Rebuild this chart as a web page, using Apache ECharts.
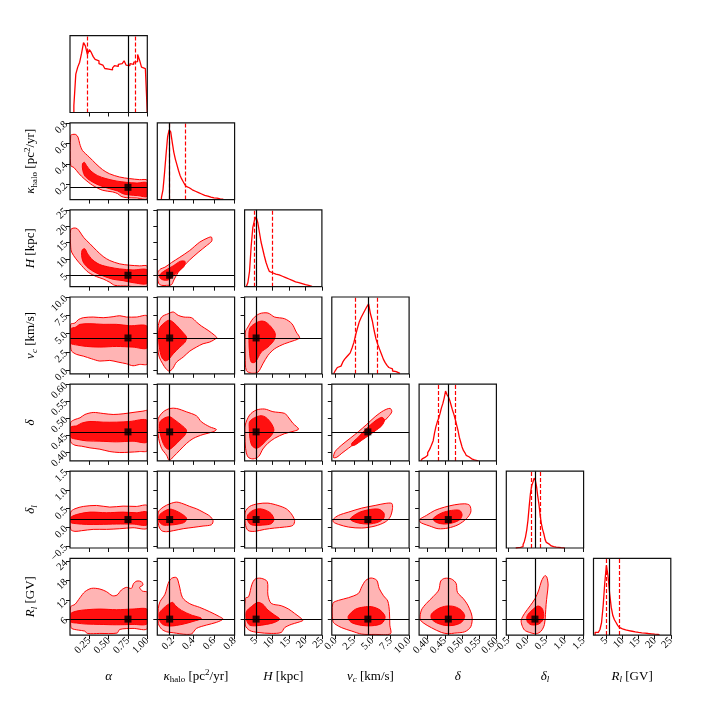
<!DOCTYPE html>
<html lang="en">
<head>
<meta charset="UTF-8">
<title>corner</title>
<script src="https://cdn.jsdelivr.net/npm/echarts@6/dist/echarts.min.js"></script>
<style>
    html, body { margin: 0; padding: 0; background: #fff; }
    #main { width: 706px; height: 706px; }
</style>
</head>
<body>
<div id="main"></div>
<script>
// parameter ranges, truths, quantiles
const axisMin = [0, 0.05, 1.5, -0.5, 0.375, -0.55, 1]
const axisMax = [1, 0.8, 25, 10, 0.6, 1.5, 25]
const truth = [0.75, 0.17, 5, 4.4, 0.46, 0.21, 6]
const qLo = [0.223, 0.165, 4.5, 2.73, 0.43, 0.118, 5.1]
const qHi = [0.85, 0.324, 9.9, 5.64, 0.484, 0.356, 9.0]
const xTicks = [[0.25, 0.5, 0.75, 1], [0.2, 0.4, 0.6, 0.8], [5, 10, 15, 20, 25], [0, 2.5, 5, 7.5, 10],
    [0.4, 0.45, 0.5, 0.55, 0.6], [-0.5, 0, 0.5, 1, 1.5], [5, 10, 15, 20, 25]]
const yTicks = [[], [0.2, 0.4, 0.6, 0.8], [5, 10, 15, 20, 25], [0, 2.5, 5, 7.5, 10],
    [0.4, 0.45, 0.5, 0.55, 0.6], [-0.5, 0, 0.5, 1, 1.5], [6, 12, 18, 24]]
const decimals = [2, 1, 0, 1, 2, 1, 0]
const axisTitles = ['{i|α}', '{i|κ}{sub|halo} [pc{sup|2}/yr]', '{i|H} [kpc]', '{i|v}{subi|c} [km/s]',
    '{i|δ}', '{i|δ}{subi|l}', '{i|R}{subi|l} [GV]']

// histograms (bin start, bin width, counts)
const histStart = [0.05, 0.09, 2.0, -0.25, 0.38, -0.3, 1.5]
const histWidth = [0.025, 0.015, 0.5, 0.25, 0.004, 0.0325, 0.5]
const histAlpha = [10, 55, 65, 72, 85, 100, 95, 83, 90, 86, 80, 76, 74, 70, 68, 66, 63, 62, 61, 61, 64, 67, 66, 69, 70, 72, 74, 68, 67, 70, 69, 72, 73, 83, 75, 65, 63, 63]
const histKappa = [3, 14, 38, 65, 90, 100, 97, 82, 68, 58, 50, 42, 35, 30, 26, 22, 19, 17, 15, 14, 13, 12, 11, 10, 9, 8, 7, 6, 5.5, 5, 4, 3.5, 3, 2.5, 2, 2, 1.5, 1, 1, 0.5]
const histH = [1, 6, 22, 58, 85, 95, 100, 92, 78, 64, 54, 44, 35, 28, 22, 20, 19, 18, 18, 17, 16, 15, 14, 13, 12, 11, 10, 9, 8, 7, 6.5, 6, 5, 4.5, 4, 3, 2.5, 2, 1, 0.5]
const histVc = [2, 5, 9, 11, 13, 17, 21, 24, 27, 30, 37, 45, 56, 66, 75, 81, 86, 91, 96, 100, 86, 76, 62, 50, 42, 35, 28, 21, 16, 12, 9, 7, 4, 3, 1.5, 0.5]
const histDelta = [1, 3, 5, 7, 8, 12, 15, 19, 24, 29, 40, 49, 56, 61, 68, 76, 82, 90, 100, 95, 92, 87, 80, 73, 67, 60, 52, 44, 34, 27, 20, 15, 12, 8, 6, 4, 3, 2, 1.5, 1, 0.5, 0.3]
const histDl = [0.5, 0.5, 1, 1, 1.5, 2, 5, 9, 16, 26, 40, 60, 78, 89, 94, 100, 97, 88, 74, 62, 46, 34, 26, 20, 12, 8, 6, 4, 3, 2.5, 2, 1.5, 1.2, 1, 1, 0.7, 0.5, 0.5, 0.3, 0.2]
const histRl = [4, 4, 5, 8, 18, 42, 75, 100, 85, 60, 40, 28, 22, 18, 14, 11, 9, 8, 7.5, 7, 6.5, 6, 5.5, 5, 4.5, 4, 3.8, 3.5, 3.2, 3, 2.8, 2.5, 2.3, 2, 1.8, 1.5, 1.3, 1.1, 1, 0.8]
const hists = [histAlpha, histKappa, histH, histVc, histDelta, histDl, histRl]

// contour outlines (x param, y param)
const kappaAlphaOut = [[0.009,0.677],[0.03,0.686],[0.074,0.686],[0.104,0.66],[0.126,0.595],[0.161,0.53],[0.248,0.466],[0.335,0.40],[0.422,0.342],[0.509,0.303],[0.639,0.271],[0.77,0.255],[0.9,0.245],[1.0,0.238],[1.0,0.06],[0.857,0.066],[0.726,0.069],[0.661,0.082],[0.617,0.108],[0.552,0.125],[0.422,0.141],[0.291,0.19],[0.183,0.254],[0.117,0.303],[0.052,0.362],[0.009,0.384]]
const kappaAlphaIn = [[0.161,0.40],[0.187,0.414],[0.213,0.384],[0.27,0.329],[0.357,0.284],[0.465,0.255],[0.596,0.232],[0.726,0.219],[0.857,0.212],[1.0,0.212],[1.0,0.082],[0.878,0.089],[0.77,0.095],[0.683,0.108],[0.617,0.134],[0.509,0.157],[0.378,0.19],[0.27,0.232],[0.196,0.277],[0.165,0.336]]
const hAlphaOut = [[0.009,18.95],[0.052,19.46],[0.094,19.25],[0.129,18.23],[0.18,16.48],[0.258,14.64],[0.343,12.59],[0.429,10.74],[0.515,9.51],[0.644,8.48],[0.773,8.07],[0.901,7.87],[1.0,7.76],[1.0,1.71],[0.73,1.71],[0.579,1.92],[0.515,2.84],[0.429,3.87],[0.343,4.58],[0.236,5.92],[0.15,7.97],[0.077,10.02],[0.021,12.07],[0.009,13.61]]
const hAlphaIn = [[0.159,12.79],[0.193,13.1],[0.223,11.76],[0.292,9.71],[0.386,8.28],[0.515,7.46],[0.644,6.94],[0.815,6.63],[1.0,6.63],[1.0,2.53],[0.815,2.74],[0.687,3.35],[0.558,3.76],[0.429,4.79],[0.322,5.92],[0.236,7.25],[0.172,8.99],[0.15,11.05]]
const vcAlphaOut = [[0.009,6.26],[0.064,6.44],[0.107,6.9],[0.172,7.17],[0.3,7.26],[0.429,7.17],[0.558,7.31],[0.644,7.44],[0.73,7.26],[0.858,7.26],[1.0,7.35],[1.0,0.87],[0.901,0.78],[0.815,0.6],[0.73,0.87],[0.622,1.1],[0.515,1.33],[0.386,1.24],[0.279,1.55],[0.172,1.92],[0.086,2.15],[0.021,2.6],[0.009,3.15]]
const vcAlphaIn = [[0.009,5.62],[0.077,5.89],[0.129,6.26],[0.258,6.35],[0.429,6.26],[0.601,6.26],[0.773,6.07],[1.0,5.98],[1.0,3.06],[0.815,3.15],[0.601,3.24],[0.386,3.15],[0.215,3.24],[0.094,3.43],[0.009,3.7]]
const deltaAlphaOut = [[0.009,0.4875],[0.064,0.4963],[0.129,0.5012],[0.193,0.511],[0.3,0.5169],[0.429,0.5139],[0.558,0.511],[0.687,0.513],[0.815,0.5169],[0.944,0.5208],[1.0,0.5218],[1.0,0.4054],[0.901,0.4024],[0.773,0.4005],[0.644,0.3995],[0.515,0.4024],[0.386,0.4093],[0.258,0.4132],[0.15,0.4181],[0.064,0.421],[0.009,0.4308]]
const deltaAlphaIn = [[0.009,0.4738],[0.086,0.4777],[0.15,0.4856],[0.258,0.4905],[0.429,0.4885],[0.601,0.4885],[0.773,0.4905],[1.0,0.4934],[1.0,0.4308],[0.815,0.4328],[0.601,0.4308],[0.386,0.4328],[0.215,0.4337],[0.086,0.4386],[0.009,0.4445]]
const dlAlphaOut = [[0.009,0.408],[0.064,0.497],[0.172,0.559],[0.343,0.586],[0.515,0.542],[0.687,0.568],[0.858,0.559],[1.0,0.577],[1.0,-0.017],[0.815,-0.009],[0.644,-0.035],[0.472,-0.053],[0.3,-0.053],[0.15,-0.088],[0.064,-0.106],[0.009,-0.053]]
const dlAlphaIn = [[0.009,0.267],[0.107,0.355],[0.258,0.408],[0.472,0.391],[0.687,0.408],[0.858,0.391],[1.0,0.408],[1.0,0.071],[0.815,0.089],[0.601,0.089],[0.386,0.08],[0.215,0.08],[0.086,0.098],[0.009,0.133]]
const rlAlphaOut = [[0.009,9.87],[0.064,10.6],[0.129,12.69],[0.193,14.57],[0.279,15.61],[0.386,15.4],[0.472,14.57],[0.549,13.31],[0.609,13.52],[0.665,15.09],[0.73,15.92],[0.794,15.61],[0.824,17.17],[0.867,17.9],[0.923,17.7],[0.944,16.65],[0.901,15.92],[0.936,14.77],[1.0,14.36],[1.0,3.09],[0.815,3.09],[0.644,2.77],[0.609,1.63],[0.386,1.52],[0.223,1.52],[0.193,2.25],[0.107,2.56],[0.021,3.09],[0.009,4.13]]
const rlAlphaIn = [[0.009,7.68],[0.086,8.51],[0.215,8.93],[0.386,9.14],[0.601,8.93],[0.815,9.14],[1.0,9.03],[1.0,4.55],[0.815,4.34],[0.601,4.23],[0.386,4.34],[0.215,4.44],[0.086,4.76],[0.009,5.17]]
const hKappaOut = [[0.056,5.92],[0.082,6.94],[0.124,7.46],[0.188,8.89],[0.269,10.53],[0.365,12.59],[0.462,15.15],[0.543,16.48],[0.575,16.69],[0.578,15.46],[0.526,14.02],[0.446,11.97],[0.365,9.71],[0.301,7.66],[0.253,5.92],[0.211,3.56],[0.188,2.12],[0.14,1.91],[0.092,1.91],[0.063,2.53],[0.053,4.17]]
const hKappaIn = [[0.076,5.2],[0.124,6.43],[0.204,7.87],[0.275,9.3],[0.32,9.2],[0.308,7.66],[0.253,6.12],[0.198,4.58],[0.156,3.56],[0.108,3.56],[0.076,4.17]]
const vcKappaOut = [[0.06,6.12],[0.092,7.26],[0.156,7.72],[0.205,7.95],[0.253,7.49],[0.308,7.26],[0.382,7.17],[0.43,6.58],[0.478,6.03],[0.543,5.44],[0.607,4.75],[0.626,4.43],[0.559,3.84],[0.494,3.61],[0.43,3.15],[0.365,2.6],[0.301,1.78],[0.237,1.1],[0.198,0.19],[0.166,-0.13],[0.134,0.19],[0.102,0.87],[0.069,1.78],[0.053,3.15]]
const vcKappaIn = [[0.069,5.66],[0.108,6.35],[0.156,6.8],[0.188,6.71],[0.237,6.12],[0.295,5.21],[0.333,4.52],[0.32,3.84],[0.269,3.15],[0.205,2.24],[0.156,1.42],[0.124,1.28],[0.092,1.78],[0.069,3.15],[0.063,4.52]]
const deltaKappaOut = [[0.06,0.4993],[0.108,0.5188],[0.172,0.5286],[0.237,0.5286],[0.333,0.5188],[0.43,0.5071],[0.478,0.4895],[0.559,0.4748],[0.623,0.467],[0.591,0.4601],[0.494,0.4523],[0.398,0.4406],[0.333,0.4259],[0.269,0.4064],[0.205,0.3868],[0.166,0.376],[0.14,0.3917],[0.092,0.4112],[0.063,0.4406],[0.056,0.4699]]
const deltaKappaIn = [[0.076,0.4895],[0.124,0.5012],[0.172,0.5042],[0.221,0.4944],[0.285,0.4797],[0.333,0.465],[0.317,0.4503],[0.269,0.4357],[0.221,0.421],[0.172,0.4093],[0.14,0.4112],[0.108,0.4259],[0.082,0.4504],[0.072,0.4699]]
const dlKappaOut = [[0.06,0.408],[0.108,0.542],[0.172,0.63],[0.237,0.675],[0.301,0.63],[0.365,0.559],[0.43,0.497],[0.494,0.408],[0.559,0.302],[0.591,0.178],[0.575,0.071],[0.494,0.036],[0.398,0.0],[0.301,-0.035],[0.205,-0.088],[0.14,-0.115],[0.092,-0.088],[0.063,0.053]]
const dlKappaIn = [[0.069,0.32],[0.114,0.426],[0.172,0.488],[0.221,0.453],[0.285,0.364],[0.333,0.249],[0.317,0.142],[0.253,0.089],[0.172,0.062],[0.108,0.062],[0.072,0.142]]
const rlKappaOut = [[0.06,9.35],[0.076,11.43],[0.124,13.73],[0.156,17.17],[0.188,18.74],[0.237,18.95],[0.262,16.65],[0.295,12.69],[0.365,10.81],[0.462,9.66],[0.559,8.3],[0.655,6.74],[0.687,6.01],[0.623,4.97],[0.526,4.13],[0.43,3.09],[0.385,1.42],[0.333,1.21],[0.269,1.42],[0.205,1.73],[0.14,2.04],[0.092,2.88],[0.06,4.65]]
const rlKappaIn = [[0.069,7.78],[0.108,9.35],[0.156,10.6],[0.198,11.23],[0.227,10.18],[0.285,8.72],[0.382,7.26],[0.478,6.22],[0.398,5.28],[0.317,4.55],[0.237,4.03],[0.172,3.82],[0.108,4.23],[0.076,5.38]]
const vcHOut = [[1.7,5.21],[2.51,5.89],[4.03,7.03],[6.06,7.72],[8.59,7.81],[10.62,7.26],[13.66,7.03],[15.88,6.35],[17.2,5.21],[18.21,4.43],[16.7,4.07],[13.66,3.61],[10.62,2.92],[8.59,2.01],[7.07,0.87],[5.55,-0.27],[3.53,-0.41],[2.01,-0.04],[1.7,1.78]]
const vcHIn = [[3.02,5.66],[4.54,6.35],[6.57,6.71],[8.08,6.53],[9.6,5.89],[10.82,4.98],[10.41,4.07],[8.59,3.15],[6.57,2.47],[4.74,1.1],[3.53,1.1],[3.02,2.24],[2.82,4.07]]
const deltaHOut = [[1.7,0.4802],[3.02,0.5094],[5.05,0.524],[7.58,0.527],[10.11,0.5192],[13.66,0.5143],[14.67,0.5045],[16.19,0.4851],[17.91,0.4685],[16.7,0.4627],[13.66,0.4549],[10.62,0.4412],[8.59,0.4266],[7.07,0.41],[5.75,0.3877],[4.03,0.3809],[2.51,0.3867],[1.8,0.412],[1.6,0.451]]
const deltaHIn = [[3.02,0.49],[4.54,0.5016],[6.57,0.5075],[8.08,0.5016],[9.6,0.4851],[10.41,0.4656],[9.6,0.449],[8.08,0.4354],[6.57,0.4198],[5.05,0.412],[3.73,0.4198],[3.12,0.4412],[2.92,0.4705]]
const dlHOut = [[1.7,0.408],[3.02,0.559],[5.55,0.63],[8.59,0.648],[11.63,0.586],[14.16,0.497],[15.68,0.364],[16.7,0.187],[16.19,0.054],[13.66,0.009],[10.62,-0.017],[7.58,-0.053],[4.54,-0.106],[2.51,-0.08],[1.7,0.098]]
const dlHIn = [[2.51,0.338],[4.03,0.453],[6.06,0.497],[8.08,0.453],[9.6,0.364],[10.41,0.213],[9.6,0.098],[7.07,0.062],[4.54,0.053],[3.02,0.098],[2.31,0.231]]
const rlHOut = [[1.7,12.48],[2.72,13.0],[3.73,16.86],[4.74,18.53],[6.57,18.74],[8.39,17.7],[8.59,13.52],[9.6,10.91],[12.64,10.18],[14.87,9.14],[16.7,7.78],[18.72,6.22],[19.23,5.59],[17.71,4.97],[15.68,4.34],[13.66,3.3],[12.64,1.83],[9.6,1.52],[5.55,1.83],[3.02,2.46],[1.7,4.13]]
const rlHIn = [[2.01,8.3],[3.53,9.87],[5.55,11.23],[7.07,10.6],[8.59,8.83],[10.62,7.26],[12.14,6.01],[10.62,4.97],[8.08,4.34],[5.05,3.92],[3.02,4.13],[2.11,5.7]]
const deltaVcOut = [[-0.27,0.3847],[-0.05,0.4023],[0.86,0.4218],[1.99,0.4412],[3.12,0.4607],[4.25,0.4821],[5.38,0.5045],[6.52,0.5221],[7.42,0.5289],[7.65,0.5192],[7.19,0.5045],[6.29,0.4851],[5.38,0.4705],[4.48,0.4558],[3.57,0.4412],[2.67,0.4266],[1.76,0.412],[0.86,0.3974],[0.18,0.3857]]
const deltaVcIn = [[2.22,0.4266],[3.12,0.4451],[4.25,0.4705],[5.38,0.4919],[6.29,0.5026],[6.65,0.4948],[6.29,0.4782],[5.38,0.4627],[4.48,0.449],[3.57,0.4354],[2.67,0.4218],[2.22,0.4198]]
const dlVcOut = [[-0.32,0.213],[0.41,0.32],[1.76,0.408],[3.57,0.515],[5.38,0.586],[6.74,0.639],[7.65,0.639],[7.74,0.497],[7.42,0.275],[6.74,0.142],[5.38,0.036],[3.57,-0.017],[1.76,0.009],[0.41,0.08],[-0.27,0.142]]
const dlVcIn = [[1.99,0.231],[3.12,0.391],[4.48,0.47],[5.84,0.488],[6.56,0.391],[6.56,0.249],[5.84,0.142],[4.48,0.089],[3.12,0.116],[2.22,0.178]]
const rlVcOut = [[-0.36,10.91],[0.41,11.85],[1.76,12.69],[3.12,14.04],[3.57,16.13],[4.12,18.11],[4.84,18.84],[5.61,18.11],[5.93,15.61],[6.52,13.31],[7.1,11.64],[7.33,8.3],[7.38,4.13],[7.47,1.42],[5.38,1.21],[3.57,1.31],[2.22,2.25],[0.86,3.3],[-0.05,4.44],[-0.36,5.38]]
const rlVcIn = [[1.76,7.05],[2.67,9.03],[3.8,9.76],[4.93,9.87],[6.06,8.83],[6.74,6.74],[6.29,4.65],[4.93,3.92],[3.57,4.03],[2.22,4.86],[1.76,6.01]]
const dlDeltaOut = [[0.3769,0.213],[0.3963,0.32],[0.4206,0.453],[0.4497,0.542],[0.4788,0.604],[0.5079,0.63],[0.5224,0.586],[0.5254,0.408],[0.5127,0.231],[0.4885,0.071],[0.4594,-0.017],[0.4303,-0.035],[0.406,0.036],[0.3866,0.098],[0.3779,0.142]]
const dlDeltaIn = [[0.4157,0.231],[0.44,0.382],[0.4691,0.453],[0.4933,0.453],[0.5001,0.337],[0.4943,0.213],[0.4739,0.124],[0.4497,0.089],[0.4254,0.133]]
const rlDeltaOut = [[0.3779,6.01],[0.3818,8.83],[0.3963,10.91],[0.4157,13.0],[0.4322,15.09],[0.438,17.9],[0.4497,18.74],[0.4691,18.53],[0.4827,17.17],[0.4866,14.36],[0.503,12.48],[0.5176,10.18],[0.5292,6.74],[0.5254,3.61],[0.5079,2.04],[0.4788,1.63],[0.4594,1.42],[0.44,1.83],[0.4109,3.3],[0.3866,4.86]]
const rlDeltaIn = [[0.4109,7.57],[0.4303,9.24],[0.4545,10.08],[0.4788,9.87],[0.4982,8.72],[0.5079,6.95],[0.4982,4.97],[0.4739,4.03],[0.4497,4.03],[0.4254,4.86],[0.4109,6.11]]
const rlDlOut = [[-0.154,5.7],[-0.066,7.78],[0.084,10.18],[0.216,12.48],[0.312,15.09],[0.383,17.9],[0.471,19.57],[0.524,19.16],[0.559,16.65],[0.532,13.52],[0.506,10.6],[0.488,7.47],[0.462,4.34],[0.374,2.25],[0.242,1.42],[0.066,1.83],[-0.066,2.56],[-0.136,4.13]]
const rlDlIn = [[0.004,7.05],[0.136,8.83],[0.286,10.08],[0.4,9.35],[0.444,7.26],[0.4,5.38],[0.286,4.34],[0.11,4.23],[0.004,5.28]]

// row, col, outer, inner
const panels = [
    [1, 0, kappaAlphaOut, kappaAlphaIn],
    [2, 0, hAlphaOut, hAlphaIn], [2, 1, hKappaOut, hKappaIn],
    [3, 0, vcAlphaOut, vcAlphaIn], [3, 1, vcKappaOut, vcKappaIn], [3, 2, vcHOut, vcHIn],
    [4, 0, deltaAlphaOut, deltaAlphaIn], [4, 1, deltaKappaOut, deltaKappaIn], [4, 2, deltaHOut, deltaHIn], [4, 3, deltaVcOut, deltaVcIn],
    [5, 0, dlAlphaOut, dlAlphaIn], [5, 1, dlKappaOut, dlKappaIn], [5, 2, dlHOut, dlHIn], [5, 3, dlVcOut, dlVcIn], [5, 4, dlDeltaOut, dlDeltaIn],
    [6, 0, rlAlphaOut, rlAlphaIn], [6, 1, rlKappaOut, rlKappaIn], [6, 2, rlHOut, rlHIn], [6, 3, rlVcOut, rlVcIn], [6, 4, rlDeltaOut, rlDeltaIn], [6, 5, rlDlOut, rlDlIn]
]

// layout
const colLeft = [70, 157.3, 244.6, 331.8, 419.1, 506.3, 593.5]
const rowTop = [35.7, 122.8, 209.9, 297, 384.1, 471.2, 558.3]
const cellW = 77.3, cellH = 76.8
const serif = 'Liberation Serif'
const richTitle = {
    fontSize: 13, fontFamily: serif, color: '#000', lineHeight: 16,
    rich: {
        i: { fontSize: 13, fontFamily: serif, fontStyle: 'italic', lineHeight: 16 },
        sub: { fontSize: 9, fontFamily: serif, lineHeight: 9, verticalAlign: 'bottom' },
        subi: { fontSize: 9, fontFamily: serif, fontStyle: 'italic', lineHeight: 9, verticalAlign: 'bottom' },
        sup: { fontSize: 9, fontFamily: serif, lineHeight: 9, verticalAlign: 'top' }
    }
}

function fmt(v, d) {
    return (v < 0 ? '\u2212' : '') + Math.abs(v).toFixed(d)
}

let myChart = echarts.init(document.getElementById('main'))
let option = { animation: false, grid: [], xAxis: [], yAxis: [], series: [] }
let gridOf = {}
let g = 0
for (let i = 0; i < 7; i++) {
    for (let j = 0; j <= i; j++) {
        gridOf[i + '-' + j] = g
        option.grid.push({
            left: colLeft[j], top: rowTop[i], width: cellW, height: cellH,
            show: true, borderColor: '#111', borderWidth: 1.2, backgroundColor: 'transparent',
            z: 10, outerBoundsMode: 'none'
        })
        const bottom = i === 6
        option.xAxis.push({
            type: 'value', gridIndex: g, min: axisMin[j], max: axisMax[j], z: 10,
            splitLine: { show: false }, axisLine: { show: false, onZero: false },
            axisTick: { show: true, customValues: xTicks[j], length: 4, lineStyle: { color: '#111', width: 1 } },
            axisLabel: {
                show: bottom, customValues: xTicks[j], rotate: 45, margin: 4,
                fontSize: 10.5, fontFamily: serif, color: '#000',
                formatter: v => fmt(v, decimals[j])
            },
            name: bottom ? axisTitles[j] : '', nameLocation: 'middle', nameGap: 33, nameTextStyle: richTitle
        })
        if (i === j) {
            option.yAxis.push({ type: 'value', gridIndex: g, min: 0, max: 110, show: false })
        } else {
            const left = j === 0
            option.yAxis.push({
                type: 'value', gridIndex: g, min: axisMin[i], max: axisMax[i], z: 10,
                splitLine: { show: false }, axisLine: { show: false, onZero: false },
                axisTick: { show: true, customValues: yTicks[i], length: 4, lineStyle: { color: '#111', width: 1 } },
                axisLabel: {
                    show: left, customValues: yTicks[i], rotate: 45, margin: 4,
                    fontSize: 10.5, fontFamily: serif, color: '#000',
                    formatter: v => fmt(v, decimals[i])
                },
                name: left ? axisTitles[i] : '', nameLocation: 'middle', nameGap: 31, nameTextStyle: richTitle
            })
        }
        g++
    }
}

// diagonal histograms
for (let k = 0; k < 7; k++) {
    const gi = gridOf[k + '-' + k]
    const counts = hists[k]
    const pts = [[histStart[k], 0]]
    counts.forEach((c, n) => pts.push([histStart[k] + n * histWidth[k], c]))
    const end = histStart[k] + counts.length * histWidth[k]
    pts.push([end, counts[counts.length - 1]])
    pts.push([end, 0])
    option.series.push({
        type: 'line', xAxisIndex: gi, yAxisIndex: gi, data: pts, step: 'end',
        symbol: 'none', silent: true, z: 3,
        lineStyle: { color: '#ff0000', width: 1.3 },
        markLine: {
            silent: true, symbol: ['none', 'none'], label: { show: false },
            data: [
                { xAxis: qLo[k], lineStyle: { color: '#ff0000', width: 1.2, type: [4, 2] } },
                { xAxis: qHi[k], lineStyle: { color: '#ff0000', width: 1.2, type: [4, 2] } },
                { xAxis: truth[k], lineStyle: { color: '#000', width: 1.2, type: 'solid' } }
            ]
        }
    })
}

// contour polygons
function polySeries(gi, pts, fill, z) {
    return {
        type: 'custom', xAxisIndex: gi, yAxisIndex: gi, data: pts, z: z, silent: true, clip: true,
        renderItem: function (params, api) {
            if (params.dataIndex !== 0) return null
            return {
                type: 'polygon',
                shape: { points: pts.map(p => api.coord(p)), smooth: 0.3 },
                style: { fill: fill, stroke: '#ff0000', lineWidth: 1 }
            }
        }
    }
}

panels.forEach(p => {
    const gi = gridOf[p[0] + '-' + p[1]]
    option.series.push(polySeries(gi, p[2], '#ffb4b4', 1))
    option.series.push(polySeries(gi, p[3], '#ff1010', 2))
    option.series.push({
        type: 'scatter', xAxisIndex: gi, yAxisIndex: gi, z: 5, silent: true,
        data: [[truth[p[1]], truth[p[0]]]],
        symbol: 'rect', symbolSize: 7, itemStyle: { color: '#000' },
        markLine: {
            silent: true, symbol: ['none', 'none'], label: { show: false },
            lineStyle: { color: '#000', width: 1.2, type: 'solid' },
            data: [{ xAxis: truth[p[1]] }, { yAxis: truth[p[0]] }]
        }
    })
})

myChart.setOption(option)
</script>
</body>
</html>
